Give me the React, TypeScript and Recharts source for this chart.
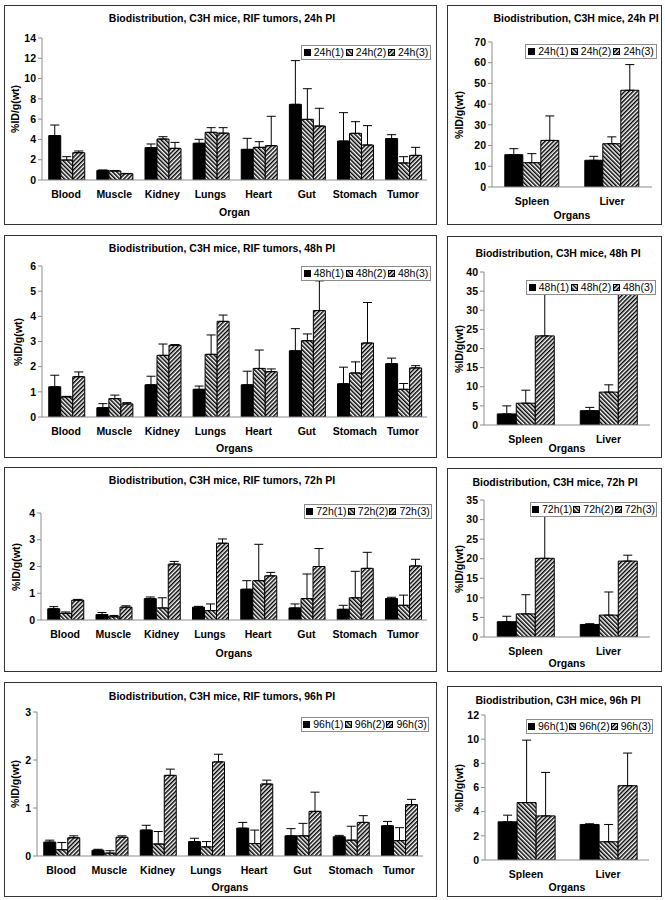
import React from 'react';
import { BarChart, Bar, XAxis, YAxis, ErrorBar } from 'recharts';

const FONT = '"Liberation Sans", Arial, Helvetica, sans-serif';

// ---------- categories ----------
const organs = ['Blood', 'Muscle', 'Kidney', 'Lungs', 'Heart', 'Gut', 'Stomach', 'Tumor'];
const resOrgans = ['Spleen', 'Liver'];

// ---------- 24h ----------
const names24 = ['24h(1)', '24h(2)', '24h(3)'];
const t24_1 = [4.38, 0.95, 3.19, 3.62, 3.02, 7.46, 3.84, 4.08];
const t24_2 = [1.97, 0.89, 4.04, 4.7, 3.22, 5.98, 4.6, 1.68];
const t24_3 = [2.69, 0.62, 3.12, 4.62, 3.38, 5.32, 3.45, 2.43];
const e24_1 = [1.04, 0.03, 0.36, 0.39, 1.09, 4.31, 2.8, 0.39];
const e24_2 = [0.33, 0.03, 0.23, 0.46, 0.56, 3.02, 1.15, 0.62];
const e24_3 = [0.17, 0.03, 0.59, 0.54, 2.9, 1.75, 1.91, 0.79];
const r24_1 = [15.6, 12.9];
const r24_2 = [11.75, 20.9];
const r24_3 = [22.5, 46.7];
const re24_1 = [2.9, 1.9];
const re24_2 = [4.35, 3.3];
const re24_3 = [11.8, 12.4];

// ---------- 48h ----------
const names48 = ['48h(1)', '48h(2)', '48h(3)'];
const t48_1 = [1.2, 0.37, 1.28, 1.1, 1.28, 2.63, 1.32, 2.12];
const t48_2 = [0.8, 0.73, 2.45, 2.49, 1.93, 3.03, 1.75, 1.1];
const t48_3 = [1.6, 0.52, 2.85, 3.8, 1.8, 4.23, 2.94, 1.95];
const e48_1 = [0.46, 0.16, 0.34, 0.13, 0.54, 0.88, 0.66, 0.22];
const e48_2 = [0.02, 0.14, 0.45, 0.77, 0.73, 0.27, 0.44, 0.23];
const e48_3 = [0.19, 0.05, 0.03, 0.25, 0.11, 1.18, 1.61, 0.09];
const r48_1 = [2.9, 3.75];
const r48_2 = [5.7, 8.6];
const r48_3 = [23.3, 35.0];
const re48_1 = [2.1, 0.85];
const re48_2 = [3.4, 1.9];
const re48_3 = [12.7, 1.0];

// ---------- 72h ----------
const names72 = ['72h(1)', '72h(2)', '72h(3)'];
const t72_1 = [0.42, 0.2, 0.8, 0.48, 1.15, 0.45, 0.4, 0.8];
const t72_2 = [0.25, 0.12, 0.45, 0.35, 1.47, 0.8, 0.83, 0.55];
const t72_3 = [0.74, 0.48, 2.09, 2.87, 1.65, 2.0, 1.93, 2.02];
const e72_1 = [0.08, 0.08, 0.06, 0.03, 0.32, 0.15, 0.15, 0.05];
const e72_2 = [0.05, 0.05, 0.38, 0.25, 1.36, 0.92, 0.99, 0.38];
const e72_3 = [0.03, 0.05, 0.1, 0.16, 0.13, 0.67, 0.6, 0.25];
const r72_1 = [3.9, 3.2];
const r72_2 = [5.9, 5.6];
const r72_3 = [20.1, 19.4];
const re72_1 = [1.4, 0.2];
const re72_2 = [4.9, 5.9];
const re72_3 = [10.7, 1.5];

// ---------- 96h ----------
const names96 = ['96h(1)', '96h(2)', '96h(3)'];
const t96_1 = [0.29, 0.12, 0.54, 0.3, 0.58, 0.42, 0.4, 0.63];
const t96_2 = [0.13, 0.06, 0.25, 0.19, 0.26, 0.42, 0.33, 0.32];
const t96_3 = [0.38, 0.39, 1.68, 1.96, 1.5, 0.93, 0.7, 1.07];
const e96_1 = [0.04, 0.02, 0.1, 0.07, 0.12, 0.15, 0.03, 0.09];
const e96_2 = [0.15, 0.05, 0.26, 0.11, 0.28, 0.26, 0.29, 0.27];
const e96_3 = [0.04, 0.03, 0.13, 0.16, 0.08, 0.4, 0.14, 0.11];
const r96_1 = [3.16, 2.94];
const r96_2 = [4.75, 1.51];
const r96_3 = [3.65, 6.15];
const re96_1 = [0.55, 0.06];
const re96_2 = [5.17, 1.43];
const re96_3 = [3.6, 2.7];

// ---------- tick labels ----------
const ticks24 = [0, 2, 4, 6, 8, 10, 12, 14];
const ticks24r = [0, 10, 20, 30, 40, 50, 60, 70];
const ticks48 = [0, 1, 2, 3, 4, 5, 6];
const ticks48r = [0, 5, 10, 15, 20, 25, 30, 35, 40];
const ticks72 = [0, 1, 2, 3, 4];
const ticks72r = [0, 5, 10, 15, 20, 25, 30, 35];
const ticks96 = [0, 1, 2, 3];
const ticks96r = [0, 2, 4, 6, 8, 10, 12];

const FILLS = ['#000', 'url(#hatchBack)', 'url(#hatchFwd)'];

function buildRows(cats: string[], vals: number[][], errs: number[][]) {
  return cats.map((c, i) => ({
    name: c,
    v0: vals[0][i],
    v1: vals[1][i],
    v2: vals[2][i],
    e0: [0, errs[0][i]],
    e1: [0, errs[1][i]],
    e2: [0, errs[2][i]],
  }));
}

type PanelDef = {
  box: [number, number, number, number];
  plot: [number, number, number, number];
  cats: string[];
  vals: number[][];
  errs: number[][];
  names: string[];
  ticks: number[];
  title: string;
  titlePos: [number, number];
  xLabel: string;
  xLabelY: number;
  yLabelX: number;
  legend: [number, number, number, number];
  gap: string;
};

const YW = 30;
const XH = 20;

const tickStyle = { fontSize: 10.5, fontWeight: 'bold', fill: '#000', fontFamily: FONT };

function Swatch({ fill }: { fill: string }) {
  return (
    <svg width={7} height={7} style={{ display: 'block', flex: 'none' }}>
      <rect x={0.5} y={0.5} width={6} height={6} fill={fill} stroke="#000" strokeWidth={1} />
    </svg>
  );
}

function Panel({ d }: { d: PanelDef }) {
  const [bx, by, bw, bh] = d.box;
  const [pl, pr, pt, pb] = d.plot;
  const data = buildRows(d.cats, d.vals, d.errs);
  const margin = {
    top: pt - by,
    left: pl - bx - YW,
    right: bx + bw - pr,
    bottom: by + bh - pb - XH,
  };
  const max = d.ticks[d.ticks.length - 1];
  const [lx, ly, lw, lh] = d.legend;
  return (
    <>
      <div style={{ position: 'absolute', left: bx, top: by, width: bw, height: bh }}>
        <BarChart
          width={bw}
          height={bh}
          data={data}
          margin={margin}
          barCategoryGap={d.gap}
          barGap={0}
        >
          <XAxis
            dataKey="name"
            interval={0}
            height={XH}
            tickLine={false}
            tickMargin={5}
            axisLine={{ stroke: '#8c8c8c' }}
            tick={tickStyle}
          />
          <YAxis
            width={YW}
            domain={[0, max]}
            ticks={d.ticks}
            interval={0}
            allowDataOverflow
            tickSize={4}
            tickMargin={2}
            axisLine={{ stroke: '#8c8c8c' }}
            tickLine={{ stroke: '#8c8c8c' }}
            tick={tickStyle}
          />
          {[0, 1, 2].map((k) => (
            <Bar
              key={k}
              dataKey={'v' + k}
              name={d.names[k]}
              fill={FILLS[k]}
              stroke="#000"
              strokeWidth={1}
              isAnimationActive={false}
            >
              <ErrorBar dataKey={'e' + k} width={4.5} stroke="#000" strokeWidth={1} direction="y" />
            </Bar>
          ))}
        </BarChart>
      </div>
      <div
        style={{
          position: 'absolute',
          left: bx,
          top: by,
          width: bw,
          height: bh,
          border: '1.5px solid #333',
          boxSizing: 'border-box',
          pointerEvents: 'none',
        }}
      />
      <div
        style={{
          position: 'absolute',
          left: d.titlePos[0],
          top: d.titlePos[1],
          transform: 'translate(-50%, -50%)',
          whiteSpace: 'nowrap',
          fontFamily: FONT,
          fontWeight: 'bold',
          fontSize: 10.5,
          color: '#000',
        }}
      >
        {d.title}
      </div>
      <div
        style={{
          position: 'absolute',
          left: (pl + pr) / 2,
          top: d.xLabelY,
          transform: 'translate(-50%, -50%)',
          whiteSpace: 'nowrap',
          fontFamily: FONT,
          fontWeight: 'bold',
          fontSize: 10.5,
          color: '#000',
        }}
      >
        {d.xLabel}
      </div>
      <div
        style={{
          position: 'absolute',
          left: d.yLabelX,
          top: (pt + pb) / 2,
          transform: 'translate(-50%, -50%) rotate(-90deg)',
          whiteSpace: 'nowrap',
          fontFamily: FONT,
          fontWeight: 'bold',
          fontSize: 10.5,
          color: '#000',
        }}
      >
        %ID/g(wt)
      </div>
      <div
        style={{
          position: 'absolute',
          left: lx,
          top: ly,
          width: lw,
          height: lh,
          border: '1px solid #8c8c8c',
          background: '#fff',
          boxSizing: 'border-box',
          display: 'flex',
          alignItems: 'center',
          justifyContent: 'space-evenly',
          fontFamily: FONT,
          fontSize: 10.5,
          color: '#000',
        }}
      >
        {d.names.map((n, k) => (
          <div key={k} style={{ display: 'flex', alignItems: 'center', gap: 3 }}>
            <Swatch fill={FILLS[k]} />
            <span style={{ lineHeight: '11px' }}>{n}</span>
          </div>
        ))}
      </div>
    </>
  );
}

const panels: PanelDef[] = [
  {
    box: [4, 5, 433, 220], plot: [42, 427, 38, 180], cats: organs,
    vals: [t24_1, t24_2, t24_3], errs: [e24_1, e24_2, e24_3], names: names24, ticks: ticks24,
    title: 'Biodistribution, C3H mice, RIF tumors, 24h PI', titlePos: [222, 18],
    xLabel: 'Organ', xLabelY: 212, yLabelX: 15, legend: [301, 45, 130, 15], gap: '14%',
  },
  {
    box: [447, 5, 215, 220], plot: [492, 652, 42, 187], cats: resOrgans,
    vals: [r24_1, r24_2, r24_3], errs: [re24_1, re24_2, re24_3], names: names24, ticks: ticks24r,
    title: 'Biodistribution, C3H mice, 24h PI', titlePos: [576, 18],
    xLabel: 'Organs', xLabelY: 215, yLabelX: 459, legend: [525, 44, 132, 15], gap: '16%',
  },
  {
    box: [4, 235, 433, 223], plot: [42, 427, 266, 417], cats: organs,
    vals: [t48_1, t48_2, t48_3], errs: [e48_1, e48_2, e48_3], names: names48, ticks: ticks48,
    title: 'Biodistribution, C3H mice, RIF tumors, 48h PI', titlePos: [222, 248],
    xLabel: 'Organs', xLabelY: 448, yLabelX: 18, legend: [301, 266, 130, 15], gap: '14%',
  },
  {
    box: [447, 236, 215, 222], plot: [484, 650, 272, 425], cats: resOrgans,
    vals: [r48_1, r48_2, r48_3], errs: [re48_1, re48_2, re48_3], names: names48, ticks: ticks48r,
    title: 'Biodistribution, C3H mice, 48h PI', titlePos: [558, 253],
    xLabel: 'Organs', xLabelY: 448, yLabelX: 459, legend: [526, 280, 130, 15], gap: '16%',
  },
  {
    box: [4, 467, 433, 205], plot: [41, 427, 513, 620], cats: organs,
    vals: [t72_1, t72_2, t72_3], errs: [e72_1, e72_2, e72_3], names: names72, ticks: ticks72,
    title: 'Biodistribution, C3H mice, RIF tumors, 72h PI', titlePos: [222, 480],
    xLabel: 'Organs', xLabelY: 653, yLabelX: 16, legend: [304, 504, 128, 15], gap: '14%',
  },
  {
    box: [447, 468, 215, 204], plot: [484, 650, 500, 637], cats: resOrgans,
    vals: [r72_1, r72_2, r72_3], errs: [re72_1, re72_2, re72_3], names: names72, ticks: ticks72r,
    title: 'Biodistribution, C3H mice, 72h PI', titlePos: [555, 482],
    xLabel: 'Organs', xLabelY: 663, yLabelX: 459, legend: [530, 502, 127, 15], gap: '16%',
  },
  {
    box: [4, 682, 433, 215], plot: [37, 423, 712, 856], cats: organs,
    vals: [t96_1, t96_2, t96_3], errs: [e96_1, e96_2, e96_3], names: names96, ticks: ticks96,
    title: 'Biodistribution, C3H mice, RIF tumors, 96h PI', titlePos: [222, 696],
    xLabel: 'Organs', xLabelY: 887, yLabelX: 15, legend: [301, 717, 128, 15], gap: '14%',
  },
  {
    box: [447, 686, 215, 211], plot: [485, 649, 715, 860], cats: resOrgans,
    vals: [r96_1, r96_2, r96_3], errs: [re96_1, re96_2, re96_3], names: names96, ticks: ticks96r,
    title: 'Biodistribution, C3H mice, 96h PI', titlePos: [558, 700],
    xLabel: 'Organs', xLabelY: 887, yLabelX: 459, legend: [526, 719, 127, 15], gap: '16%',
  },
];

export default function App() {
  return (
    <div style={{ position: 'absolute', left: 0, top: 0, width: 665, height: 900, background: '#fff', overflow: 'hidden' }}>
      <svg width={0} height={0} style={{ position: 'absolute' }}>
        <defs>
          <pattern id="hatchBack" patternUnits="userSpaceOnUse" width={3} height={3} patternTransform="rotate(-45)">
            <rect width={3} height={3} fill="#fff" />
            <rect width={1.5} height={3} fill="#000" />
          </pattern>
          <pattern id="hatchFwd" patternUnits="userSpaceOnUse" width={3} height={3} patternTransform="rotate(45)">
            <rect width={3} height={3} fill="#fff" />
            <rect width={1.5} height={3} fill="#000" />
          </pattern>
        </defs>
      </svg>
      {panels.map((p, i) => (
        <Panel key={i} d={p} />
      ))}
    </div>
  );
}
